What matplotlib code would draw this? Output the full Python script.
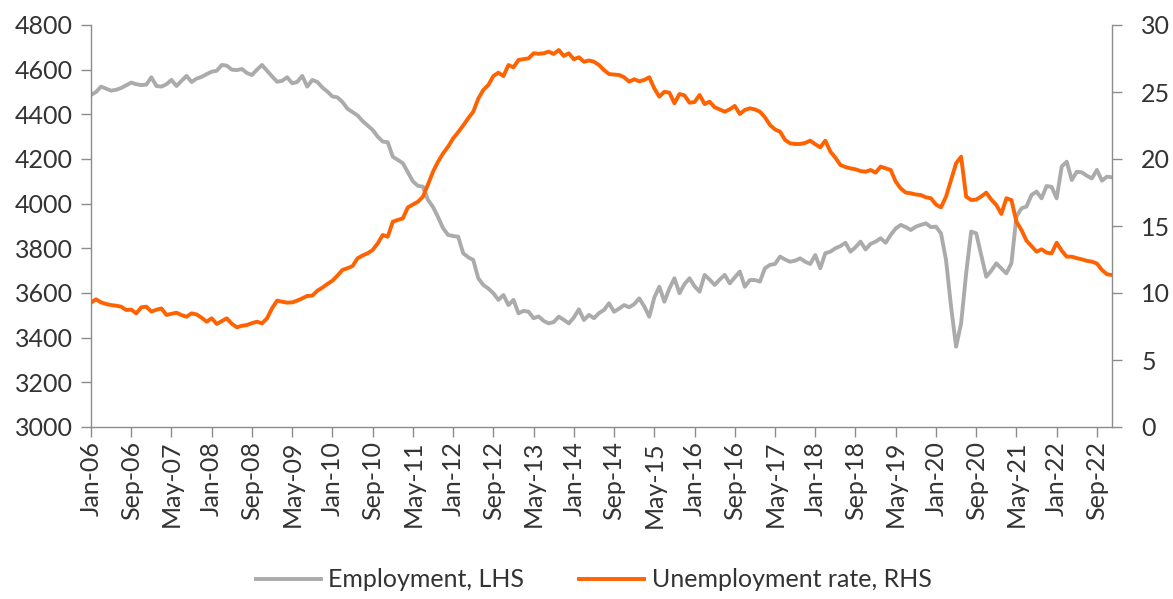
import matplotlib
matplotlib.use("Agg")
import matplotlib.pyplot as plt
import pandas as pd

plt.rcParams['font.family'] = ['Lato', 'DejaVu Sans']

months = pd.date_range("2006-01-01", "2022-12-01", freq="MS")

employment = [
    4487, 4500, 4524, 4515, 4506, 4510, 4518, 4530, 4542, 4535, 4531, 4533,  # 2006
    4566, 4527, 4524, 4535, 4554, 4527, 4550, 4572, 4545, 4560, 4568, 4580,  # 2007
    4591, 4595, 4621, 4618, 4600, 4598, 4603, 4585, 4576, 4600, 4621, 4595,  # 2008
    4570, 4546, 4550, 4566, 4539, 4545, 4572, 4524, 4554, 4545, 4520, 4502,  # 2009
    4480, 4476, 4455, 4425, 4410, 4395, 4370, 4350, 4330, 4300, 4278, 4275,  # 2010
    4210, 4196, 4181, 4140, 4100, 4080, 4076, 4017, 3985, 3940, 3890, 3860,  # 2011
    3855, 3852, 3778, 3760, 3748, 3666, 3636, 3620, 3599, 3569, 3591, 3546,  # 2012
    3569, 3509, 3520, 3516, 3487, 3495, 3475, 3464, 3470, 3494, 3480, 3464,  # 2013
    3490, 3527, 3479, 3502, 3487, 3510, 3524, 3554, 3516, 3530, 3546, 3536,  # 2014
    3550, 3576, 3540, 3494, 3580, 3628, 3561, 3620, 3666, 3599, 3640, 3666,  # 2015
    3630, 3606, 3681, 3660, 3636, 3660, 3681, 3643, 3670, 3696, 3628, 3658,  # 2016
    3658, 3651, 3711, 3726, 3730, 3763, 3750, 3740, 3745, 3755, 3740, 3730,  # 2017
    3770, 3711, 3778, 3785, 3800, 3810, 3825, 3785, 3805, 3830, 3795, 3820,  # 2018
    3830, 3845, 3825, 3860, 3889, 3905, 3895, 3882, 3897, 3905, 3912, 3895,  # 2019
    3897, 3867, 3748, 3539, 3360, 3464, 3688, 3875, 3867, 3770, 3673, 3700,  # 2020
    3733, 3710, 3688, 3733, 3942, 3979, 3987, 4039, 4054, 4024, 4079, 4075,  # 2021
    4024, 4166, 4188, 4106, 4143, 4140, 4125, 4113, 4151, 4103, 4121, 4118,  # 2022
]

unemployment = [
    9.28, 9.53, 9.30, 9.18, 9.10, 9.05, 8.98, 8.73, 8.76, 8.48, 8.93, 8.98,  # 2006
    8.61, 8.75, 8.85, 8.36, 8.45, 8.53, 8.35, 8.23, 8.48, 8.40, 8.15, 7.86,  # 2007
    8.11, 7.69, 7.90, 8.11, 7.70, 7.44, 7.55, 7.61, 7.75, 7.86, 7.73, 8.11,  # 2008
    8.86, 9.43, 9.35, 9.28, 9.30, 9.43, 9.60, 9.78, 9.80, 10.17, 10.40, 10.67,  # 2009
    10.92, 11.30, 11.72, 11.85, 12.01, 12.59, 12.80, 12.96, 13.21, 13.70, 14.33, 14.20,  # 2010
    15.32, 15.45, 15.57, 16.39, 16.60, 16.81, 17.19, 18.10, 19.05, 19.80, 20.42, 20.92,  # 2011
    21.54, 22.00, 22.50, 23.04, 23.53, 24.50, 25.15, 25.52, 26.19, 26.44, 26.19, 27.01,  # 2012
    26.84, 27.39, 27.45, 27.51, 27.89, 27.85, 27.89, 28.01, 27.84, 28.13, 27.69, 27.89,  # 2013
    27.44, 27.59, 27.26, 27.35, 27.26, 27.01, 26.64, 26.34, 26.30, 26.27, 26.10, 25.77,  # 2014
    25.95, 25.80, 25.90, 26.10, 25.27, 24.65, 25.02, 24.95, 24.16, 24.85, 24.75, 24.20,  # 2015
    24.25, 24.78, 24.10, 24.28, 23.86, 23.70, 23.53, 23.71, 23.96, 23.36, 23.66, 23.78,  # 2016
    23.70, 23.53, 23.11, 22.54, 22.20, 22.04, 21.42, 21.17, 21.12, 21.12, 21.20, 21.37,  # 2017
    21.10, 20.87, 21.37, 20.55, 20.10, 19.55, 19.40, 19.30, 19.23, 19.10, 19.05, 19.18,  # 2018
    18.98, 19.43, 19.30, 19.18, 18.31, 17.80, 17.49, 17.44, 17.35, 17.31, 17.14, 17.07,  # 2019
    16.60, 16.39, 17.19, 18.43, 19.68, 20.17, 17.19, 16.94, 16.97, 17.20, 17.49, 16.97,  # 2020
    16.57, 15.90, 17.07, 16.94, 15.32, 14.70, 13.90, 13.50, 13.08, 13.26, 13.01, 12.96,  # 2021
    13.75, 13.16, 12.71, 12.71, 12.60, 12.51, 12.40, 12.34, 12.20, 11.72, 11.40, 11.34,  # 2022
]

left_ticks = [3000, 3200, 3400, 3600, 3800, 4000, 4200, 4400, 4600, 4800]
right_ticks = [0, 5, 10, 15, 20, 25, 30]
tick_step = 8

grey = "#ABABAB"
orange = "#FF6200"
axis_col = "#8C8C8C"
text_col = "#333333"

fig = plt.figure(figsize=(11.73, 5.99), dpi=100)
ax = fig.add_axes([91/1173, 1-427/599, (1112-91)/1173, (427-25)/599])
ax2 = ax.twinx()

x = list(range(len(months)))
l1, = ax.plot(x, employment, color=grey, lw=2.8, label="Employment, LHS", solid_joinstyle="round")
l2, = ax2.plot(x, unemployment, color=orange, lw=2.8, label="Unemployment rate, RHS", solid_joinstyle="round")

ax.set_xlim(0, len(months) - 1)
ax.set_ylim(3000, 4800)
ax2.set_ylim(0, 30)
ax.set_yticks(left_ticks)
ax2.set_yticks(right_ticks)

xt = list(range(0, len(months), tick_step))
ax.set_xticks(xt)
ax.set_xticklabels([months[i].strftime("%b-%y") for i in xt], rotation=90)

for a in (ax, ax2):
    a.spines['top'].set_visible(False)
    for s in ('left', 'right', 'bottom'):
        a.spines[s].set_color(axis_col)
        a.spines[s].set_linewidth(1.0)
    a.tick_params(axis='both', colors=axis_col, labelcolor=text_col, labelsize=18,
                  length=7, width=1.0, direction='out')
ax.tick_params(axis='x', pad=3)
ax.tick_params(axis='y', pad=6)
ax2.tick_params(axis='y', pad=14)
ax.spines['right'].set_visible(False)
ax2.spines['left'].set_visible(False)
ax2.spines['bottom'].set_visible(False)

leg = fig.legend(handles=[l1, l2], loc='center', bbox_to_anchor=(0.506, 0.032), ncol=2,
                 frameon=False, fontsize=18, handlelength=2.6, handletextpad=0.3,
                 columnspacing=2.2)
for t in leg.get_texts():
    t.set_color(text_col)

fig.savefig("out.png", dpi=100)
